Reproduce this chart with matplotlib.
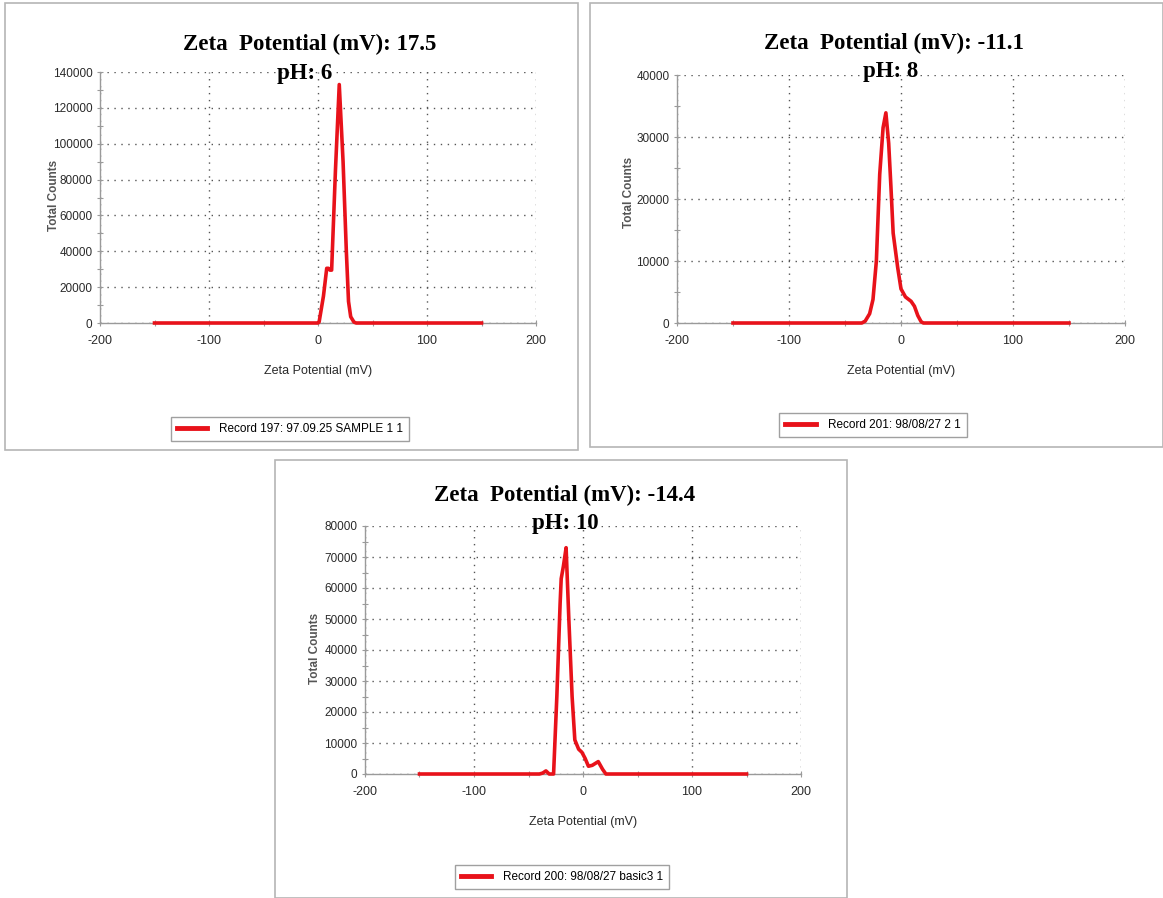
import matplotlib.pyplot as plt
from matplotlib.patches import Rectangle
from matplotlib.ticker import MultipleLocator

plt.rcParams["axes.unicode_minus"] = False

# Zeta potential distributions (mV vs total counts) for three pH values
zeta_ph6 = [-150, 0, 1, 5, 8, 9.5, 11, 12.5, 16, 19.5, 23, 26, 28, 30, 33, 35, 150]
counts_ph6 = [0, 0, 500, 15000, 30500, 30500, 29500, 29500, 85000, 133000, 90000, 40000, 12000, 3500, 500, 0, 0]

zeta_ph8 = [-150, -35, -32, -28, -25, -22, -19, -16, -13.5, -11, -9, -7, -3, 0, 4, 9, 12, 15, 18, 20, 150]
counts_ph8 = [0, 0, 300, 1500, 3800, 10000, 24000, 31500, 33900, 29000, 22000, 14500, 9000, 5500,
              4200, 3500, 2700, 1200, 200, 0, 0]

zeta_ph10 = [-150, -40, -37, -34, -31, -27, -24, -21, -20, -18, -15.5, -13, -10, -7.5, -4, -1, 2,
             5, 8.5, 14, 18, 21, 150]
counts_ph10 = [0, 0, 300, 1000, 0, 0, 25000, 55000, 63000, 67000, 73000, 50000, 25000, 11000, 8000,
               7000, 5000, 2500, 2800, 4000, 1500, 0, 0]

zeta_means = ["17.5", "-11.1", "-14.4"]
ph_values = ["6", "8", "10"]
records = ["Record 197: 97.09.25 SAMPLE 1 1", "Record 201: 98/08/27 2 1", "Record 200: 98/08/27 basic3 1"]
y_max = [140000, 40000, 80000]
y_step = [20000, 10000, 10000]

W, H = 1163, 898
fig = plt.figure(figsize=(W / 100, H / 100), dpi=100)


def fx(px):
    return px / W


def fy(py):
    return 1 - py / H


# pixel layout of each panel: frame box, axes box, title centre, legend centre, label positions
panels = [
    dict(frame=(5, 3, 578, 450), axes=(100, 72, 536, 323), title=(310, 44), ph=(305, 73),
         legend=(290, 429), ylab=(60, 195)),
    dict(frame=(590, 3, 1163, 447), axes=(677, 75, 1125, 323), title=(894, 43), ph=(891, 71),
         legend=(873, 425), ylab=(635, 192)),
    dict(frame=(275, 460, 847, 898), axes=(365, 526, 801, 774), title=(565, 495), ph=(565, 524),
         legend=(562, 877), ylab=(321, 648)),
]
series = [(zeta_ph6, counts_ph6), (zeta_ph8, counts_ph8), (zeta_ph10, counts_ph10)]

sans = ["Liberation Sans", "DejaVu Sans"]
serif = ["Liberation Serif", "DejaVu Serif"]
red = "#e8121a"
gray = "#9a9a9a"

for i, p in enumerate(panels):
    x0, y0, x1, y1 = p["frame"]
    fig.patches.append(Rectangle((fx(x0), fy(y1)), fx(x1 - x0), (y1 - y0) / H,
                                 transform=fig.transFigure, fill=False,
                                 edgecolor="#b5b5b5", lw=1.2))

    ax0, ay0, ax1, ay1 = p["axes"]
    ax = fig.add_axes([fx(ax0), fy(ay1), fx(ax1 - ax0), (ay1 - ay0) / H])
    xs, ys = series[i]
    line, = ax.plot(xs, ys, color=red, lw=2.6, clip_on=False, zorder=5)

    ax.set_xlim(-200, 200)
    ax.set_ylim(0, y_max[i])
    ax.xaxis.set_major_locator(MultipleLocator(100))
    ax.xaxis.set_minor_locator(MultipleLocator(50))
    ax.yaxis.set_major_locator(MultipleLocator(y_step[i]))
    ax.yaxis.set_minor_locator(MultipleLocator(y_step[i] / 2))
    ax.grid(True, which="major", color="#555555", linestyle=(0, (1, 4)), lw=1.0)
    for side in ("top", "right"):
        ax.spines[side].set_visible(False)
    for side in ("left", "bottom"):
        ax.spines[side].set_color(gray)
        ax.spines[side].set_linewidth(1.0)
    ax.tick_params(which="both", direction="inout", color=gray, width=0.8)
    ax.tick_params(which="minor", length=5)
    ax.tick_params(axis="x", which="major", length=5, pad=6, labelsize=9)
    ax.tick_params(axis="y", which="major", length=5, pad=3, labelsize=8.5)
    for lab in ax.get_xticklabels() + ax.get_yticklabels():
        lab.set_family(sans)
        lab.set_color("#2a2a2a")

    ax.set_xlabel("Zeta Potential (mV)", family=sans, fontsize=9, color="#2a2a2a", labelpad=13)
    ax.set_ylabel("Total Counts", family=sans, fontsize=8.5, fontweight="bold", color="#555555")
    ax.yaxis.set_label_coords(fx(p["ylab"][0]), fy(p["ylab"][1]), transform=fig.transFigure)

    fig.text(fx(p["title"][0]), fy(p["title"][1]), "Zeta  Potential (mV): " + zeta_means[i],
             family=serif, fontweight="bold", fontsize=16.5, ha="center", va="center")
    fig.text(fx(p["ph"][0]), fy(p["ph"][1]), "pH: " + ph_values[i],
             family=serif, fontweight="bold", fontsize=16.5, ha="center", va="center", zorder=10)

    leg = fig.legend([line], [records[i]], loc="center",
                     bbox_to_anchor=(fx(p["legend"][0]), fy(p["legend"][1])),
                     prop={"family": sans, "size": 8.5}, frameon=True, fancybox=False,
                     handlelength=2.6, borderpad=0.5, handletextpad=1.0)
    leg.get_frame().set_edgecolor("#888888")
    leg.get_frame().set_linewidth(1.0)
    leg.get_lines()[0].set_linewidth(3.5)

fig.savefig("out.png", dpi=100)
